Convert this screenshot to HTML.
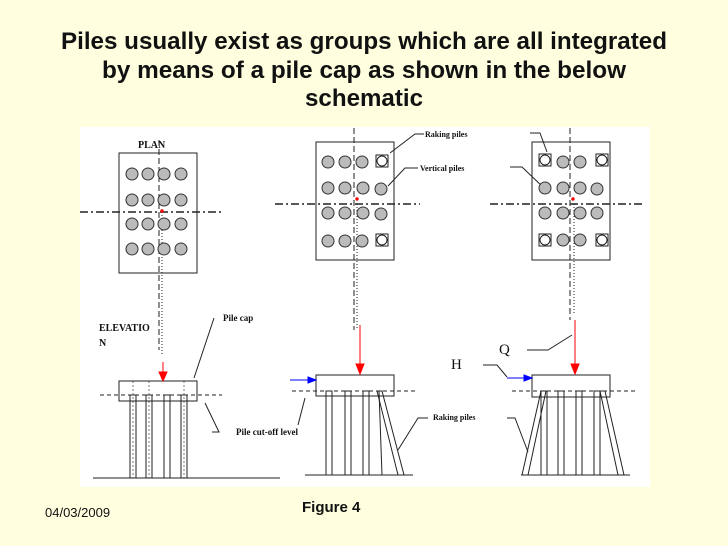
<!DOCTYPE html>
<html><head><style>
body{margin:0;background:#ffffe0;}
svg{display:block;}
</style></head><body>
<svg width="728" height="546" viewBox="0 0 728 546" xmlns="http://www.w3.org/2000/svg" font-family="Liberation Serif, serif">
<rect width="728" height="546" fill="#ffffe0"/>
<g font-family="Liberation Sans, sans-serif" font-weight="bold" font-size="24" fill="#111" text-anchor="middle">
<text x="364" y="49" textLength="606" lengthAdjust="spacingAndGlyphs">Piles usually exist as groups which are all integrated</text>
<text x="364" y="78" textLength="524" lengthAdjust="spacingAndGlyphs">by means of a pile cap as shown in the below</text>
<text x="364" y="106" textLength="118" lengthAdjust="spacingAndGlyphs">schematic</text>
</g>
<rect x="80" y="127" width="570" height="360" fill="#fff"/>
<g stroke="#222" fill="none" stroke-width="1">
<rect x="119" y="153" width="78" height="120"/>
<line x1="80" y1="212" x2="224" y2="212" stroke-width="1.5" stroke-dasharray="8,3,2,3"/>
<line x1="159" y1="140" x2="159" y2="350" stroke-dasharray="6,3"/>
<line x1="162" y1="212" x2="162" y2="355" stroke-dasharray="1,2"/>
<rect x="119" y="381" width="78" height="20"/>
<line x1="100" y1="395" x2="222" y2="395" stroke-dasharray="4,3"/>
<rect x="130" y="395" width="6" height="83"/>
<rect x="146" y="395" width="6" height="83"/>
<rect x="164" y="395" width="6" height="83"/>
<rect x="181" y="395" width="6" height="83"/>
<line x1="133" y1="381" x2="133" y2="478" stroke-dasharray="2,2" stroke-width="0.6"/>
<line x1="149" y1="381" x2="149" y2="478" stroke-dasharray="2,2" stroke-width="0.6"/>
<line x1="184" y1="381" x2="184" y2="478" stroke-dasharray="2,2" stroke-width="0.6"/>
<line x1="93" y1="478" x2="280" y2="478"/>
<line x1="214" y1="318" x2="194" y2="378"/>
<path d="M212 432 H219 L205 403"/>
<rect x="316" y="142" width="78" height="118"/>
<line x1="275" y1="204" x2="420" y2="204" stroke-width="1.5" stroke-dasharray="8,3,2,3"/>
<line x1="354" y1="128" x2="354" y2="330" stroke-dasharray="6,3"/>
<line x1="357" y1="204" x2="357" y2="330" stroke-dasharray="1,2"/>
<rect x="376" y="155" width="12" height="12"/>
<rect x="376" y="234" width="12" height="12"/>
<circle cx="382" cy="161" r="5"/><circle cx="382" cy="240" r="5"/>
<path d="M424 134 H415 L390 153"/>
<path d="M418 168 H405 L388 186"/>
<rect x="316" y="375" width="78" height="21"/>
<line x1="292" y1="391" x2="418" y2="391" stroke-dasharray="4,3"/>
<rect x="326" y="391" width="6" height="84"/>
<rect x="345" y="391" width="6" height="84"/>
<rect x="363" y="391" width="6" height="84"/>
<polygon points="377,391 382,391 404,475 398,475"/>
<line x1="379" y1="391" x2="382" y2="475"/>
<line x1="305" y1="475" x2="413" y2="475"/>
<path d="M298 425 L305 398" />
<path d="M428 418 H418 L398 450"/>
<rect x="532" y="142" width="78" height="118"/>
<line x1="490" y1="204" x2="642" y2="204" stroke-width="1.5" stroke-dasharray="8,3,2,3"/>
<line x1="570" y1="128" x2="570" y2="320" stroke-dasharray="6,3"/>
<line x1="574" y1="204" x2="574" y2="315" stroke-dasharray="1,2"/>
<rect x="539" y="154" width="12" height="12"/><rect x="596" y="154" width="12" height="12"/>
<rect x="539" y="234" width="12" height="12"/><rect x="596" y="234" width="12" height="12"/>
<circle cx="545" cy="160" r="5"/><circle cx="602" cy="160" r="5"/>
<circle cx="545" cy="240" r="5"/><circle cx="602" cy="240" r="5"/>
<path d="M530 133 H540 L547 152"/>
<path d="M510 167 H522 L544 188"/>
<rect x="532" y="375" width="78" height="22"/>
<line x1="512" y1="391" x2="636" y2="391" stroke-dasharray="4,3"/>
<rect x="541" y="391" width="6" height="84"/>
<rect x="558" y="391" width="6" height="84"/>
<rect x="576" y="391" width="6" height="84"/>
<rect x="594" y="391" width="6" height="84"/>
<polygon points="541,391 546,391 528,475 522,475"/>
<polygon points="600,391 605,391 624,475 618,475"/>
<line x1="521" y1="475" x2="630" y2="475"/>
<path d="M527 350 H548 L572 335"/>
<path d="M483 365 H497 L507 377"/>
<path d="M507 418 H515 L528 452"/>
</g>
<g fill="#bbb" stroke="#333" stroke-width="1">
<g id="r1"><circle cx="132" cy="174" r="6"/><circle cx="148" cy="174" r="6"/><circle cx="164" cy="174" r="6"/><circle cx="181" cy="174" r="6"/></g>
<use href="#r1" y="26"/><use href="#r1" y="50"/><use href="#r1" y="75"/>
<circle cx="328" cy="162" r="6"/><circle cx="345" cy="162" r="6"/><circle cx="362" cy="162" r="6"/>
<circle cx="328" cy="188" r="6"/><circle cx="345" cy="188" r="6"/><circle cx="363" cy="188" r="6"/><circle cx="381" cy="189" r="6"/>
<circle cx="328" cy="213" r="6"/><circle cx="345" cy="213" r="6"/><circle cx="363" cy="213" r="6"/><circle cx="381" cy="214" r="6"/>
<circle cx="328" cy="241" r="6"/><circle cx="345" cy="241" r="6"/><circle cx="362" cy="241" r="6"/>
<circle cx="563" cy="162" r="6"/><circle cx="580" cy="162" r="6"/>
<circle cx="545" cy="188" r="6"/><circle cx="563" cy="188" r="6"/><circle cx="580" cy="188" r="6"/><circle cx="597" cy="189" r="6"/>
<circle cx="545" cy="213" r="6"/><circle cx="563" cy="213" r="6"/><circle cx="580" cy="213" r="6"/><circle cx="597" cy="213" r="6"/>
<circle cx="563" cy="240" r="6"/><circle cx="580" cy="240" r="6"/>
</g>
<g fill="red" stroke="red">
<circle cx="162" cy="211" r="1.2"/><circle cx="357" cy="199" r="1.2"/><circle cx="573" cy="199" r="1.2"/>
<line x1="163" y1="362" x2="163" y2="374"/><polygon points="159,372 167,372 163,381"/>
<line x1="360" y1="325" x2="360" y2="366"/><polygon points="356,364 364,364 360,374"/>
<line x1="575" y1="320" x2="575" y2="366"/><polygon points="571,364 579,364 575,374"/>
</g>
<g fill="#00f" stroke="#00f">
<line x1="290" y1="380" x2="310" y2="380"/><polygon points="308,377 316,380 308,383"/>
<line x1="507" y1="378" x2="526" y2="378"/><polygon points="524,375 532,378 524,381"/>
</g>
<g fill="#111" font-weight="bold" font-size="9">
<text x="138" y="148" font-size="10">PLAN</text>
<text x="223" y="321" font-size="9">Pile cap</text>
<text x="99" y="331" font-size="10">ELEVATIO</text>
<text x="99" y="346" font-size="10">N</text>
<text x="236" y="435">Pile cut-off level</text>
<text x="425" y="137" font-size="8">Raking piles</text>
<text x="420" y="171" font-size="8">Vertical piles</text>
<text x="433" y="420" font-size="8">Raking piles</text>
</g>
<g fill="#111" font-size="15">
<text x="499" y="354">Q</text>
<text x="451" y="369">H</text>
</g>
<text x="45" y="517" font-family="Liberation Sans, sans-serif" font-size="13" fill="#111">04/03/2009</text>
<text x="302" y="512" font-family="Liberation Sans, sans-serif" font-weight="bold" font-size="15" fill="#111">Figure 4</text>
</svg>
</body></html>
